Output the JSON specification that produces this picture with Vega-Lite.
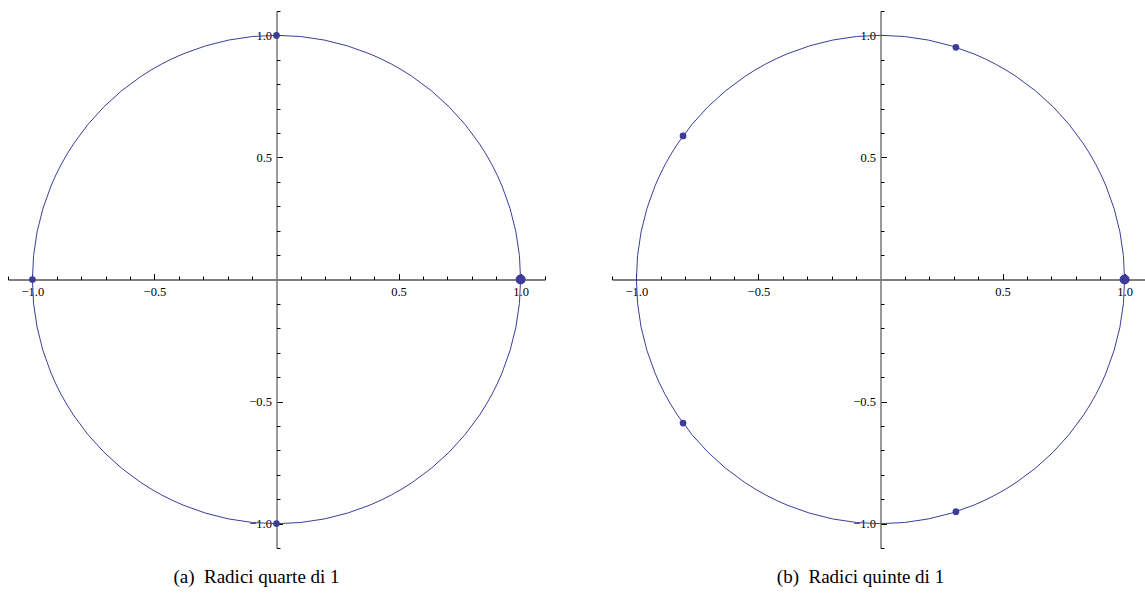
{
  "$schema": "https://vega.github.io/schema/vega-lite/v6.json",
  "padding": {"left": 7, "top": 10, "right": 0, "bottom": 0},
  "spacing": 65,
  "config": {"view": {"stroke": null}},
  "datasets": {
    "circle": [{"x": 0, "y": 0}],
    "quarte": [
      {"x": 1, "y": 0, "k": 0},
      {"x": 0, "y": 1, "k": 1},
      {"x": -1, "y": 0, "k": 2},
      {"x": 0, "y": -1, "k": 3}
    ],
    "quinte": [
      {"x": 1, "y": 0, "k": 0},
      {"x": 0.309, "y": 0.951, "k": 1},
      {"x": -0.809, "y": 0.588, "k": 2},
      {"x": -0.809, "y": -0.588, "k": 3},
      {"x": 0.309, "y": -0.951, "k": 4}
    ]
  },
  "hconcat": [
    {
      "width": 537,
      "height": 537,
      "title": {"text": "(a)\u00a0 Radici quarte di 1", "orient": "bottom", "dx": -20, "offset": 19, "font": "Liberation Serif", "fontSize": 19, "fontWeight": "normal", "color": "#000000"},
      "resolve": {"axis": {"x": "independent", "y": "independent"}},
      "layer": [
        {
          "data": {"name": "circle"},
          "mark": {"type": "point", "shape": "circle", "size": 238320, "filled": false, "stroke": "#3d3d99", "strokeWidth": 1, "opacity": 1},
          "encoding": {
            "x": {"field": "x", "type": "quantitative", "scale": {"domain": [-1.1, 1.1], "nice": false, "zero": false},
              "axis": {"orient": "bottom", "offset": -268.5, "title": null, "grid": false, "values": [-1, -0.5, 0.5, 1],
                "domainColor": "#000000", "domainWidth": 1, "tickColor": "#000000", "tickWidth": 1, "tickSize": -6,
                "labelExpr": "replace(format(datum.value,'.1f'),'-','−')",
                "labelFont": "Liberation Serif", "labelFontSize": 12.5, "labelColor": "#000000", "labelPadding": 12, "labelFlush": false, "labelOverlap": false}},
            "y": {"field": "y", "type": "quantitative", "scale": {"domain": [-1.1, 1.1], "nice": false, "zero": false},
              "axis": {"orient": "left", "offset": -268.5, "title": null, "grid": false, "values": [-1, -0.5, 0.5, 1],
                "domainColor": "#777777", "domainWidth": 1.5, "tickColor": "#000000", "tickWidth": 1, "tickSize": -6,
                "labelExpr": "replace(format(datum.value,'.1f'),'-','−')",
                "labelFont": "Liberation Serif", "labelFontSize": 12.5, "labelColor": "#000000", "labelPadding": 11, "labelFlush": false, "labelOverlap": false}}
          }
        },
        {
          "data": {"name": "quarte"},
          "mark": {"type": "circle", "color": "#3d3d99", "opacity": 1},
          "encoding": {
            "x": {"field": "x", "type": "quantitative",
              "axis": {"orient": "top", "offset": -268.5, "title": null, "grid": false, "domain": false, "labels": false,
                "values": [-1.1, -0.9, -0.8, -0.7, -0.6, -0.4, -0.3, -0.2, -0.1, 0.1, 0.2, 0.3, 0.4, 0.6, 0.7, 0.8, 0.9, 1.1],
                "tickColor": "#000000", "tickWidth": 1, "tickSize": 3.5}},
            "y": {"field": "y", "type": "quantitative",
              "axis": {"orient": "right", "offset": -268.5, "title": null, "grid": false, "domain": false, "labels": false,
                "values": [-1.1, -0.9, -0.8, -0.7, -0.6, -0.4, -0.3, -0.2, -0.1, 0.1, 0.2, 0.3, 0.4, 0.6, 0.7, 0.8, 0.9, 1.1],
                "tickColor": "#000000", "tickWidth": 1, "tickSize": 3.5}},
            "size": {"condition": {"test": "datum.k==0", "value": 100}, "value": 45}
          }
        }
      ]
    },
    {
      "width": 537,
      "height": 537,
      "title": {"text": "(b)\u00a0 Radici quinte di 1", "orient": "bottom", "dx": -20, "offset": 19, "font": "Liberation Serif", "fontSize": 19, "fontWeight": "normal", "color": "#000000"},
      "resolve": {"axis": {"x": "independent", "y": "independent"}},
      "layer": [
        {
          "data": {"name": "circle"},
          "mark": {"type": "point", "shape": "circle", "size": 238320, "filled": false, "stroke": "#3d3d99", "strokeWidth": 1, "opacity": 1},
          "encoding": {
            "x": {"field": "x", "type": "quantitative", "scale": {"domain": [-1.1, 1.1], "nice": false, "zero": false},
              "axis": {"orient": "bottom", "offset": -268.5, "title": null, "grid": false, "values": [-1, -0.5, 0.5, 1],
                "domainColor": "#000000", "domainWidth": 1, "tickColor": "#000000", "tickWidth": 1, "tickSize": -6,
                "labelExpr": "replace(format(datum.value,'.1f'),'-','−')",
                "labelFont": "Liberation Serif", "labelFontSize": 12.5, "labelColor": "#000000", "labelPadding": 12, "labelFlush": false, "labelOverlap": false}},
            "y": {"field": "y", "type": "quantitative", "scale": {"domain": [-1.1, 1.1], "nice": false, "zero": false},
              "axis": {"orient": "left", "offset": -268.5, "title": null, "grid": false, "values": [-1, -0.5, 0.5, 1],
                "domainColor": "#777777", "domainWidth": 1.5, "tickColor": "#000000", "tickWidth": 1, "tickSize": -6,
                "labelExpr": "replace(format(datum.value,'.1f'),'-','−')",
                "labelFont": "Liberation Serif", "labelFontSize": 12.5, "labelColor": "#000000", "labelPadding": 11, "labelFlush": false, "labelOverlap": false}}
          }
        },
        {
          "data": {"name": "quinte"},
          "mark": {"type": "circle", "color": "#3d3d99", "opacity": 1},
          "encoding": {
            "x": {"field": "x", "type": "quantitative",
              "axis": {"orient": "top", "offset": -268.5, "title": null, "grid": false, "domain": false, "labels": false,
                "values": [-1.1, -0.9, -0.8, -0.7, -0.6, -0.4, -0.3, -0.2, -0.1, 0.1, 0.2, 0.3, 0.4, 0.6, 0.7, 0.8, 0.9, 1.1],
                "tickColor": "#000000", "tickWidth": 1, "tickSize": 3.5}},
            "y": {"field": "y", "type": "quantitative",
              "axis": {"orient": "right", "offset": -268.5, "title": null, "grid": false, "domain": false, "labels": false,
                "values": [-1.1, -0.9, -0.8, -0.7, -0.6, -0.4, -0.3, -0.2, -0.1, 0.1, 0.2, 0.3, 0.4, 0.6, 0.7, 0.8, 0.9, 1.1],
                "tickColor": "#000000", "tickWidth": 1, "tickSize": 3.5}},
            "size": {"condition": {"test": "datum.k==0", "value": 100}, "value": 45}
          }
        }
      ]
    }
  ]
}
